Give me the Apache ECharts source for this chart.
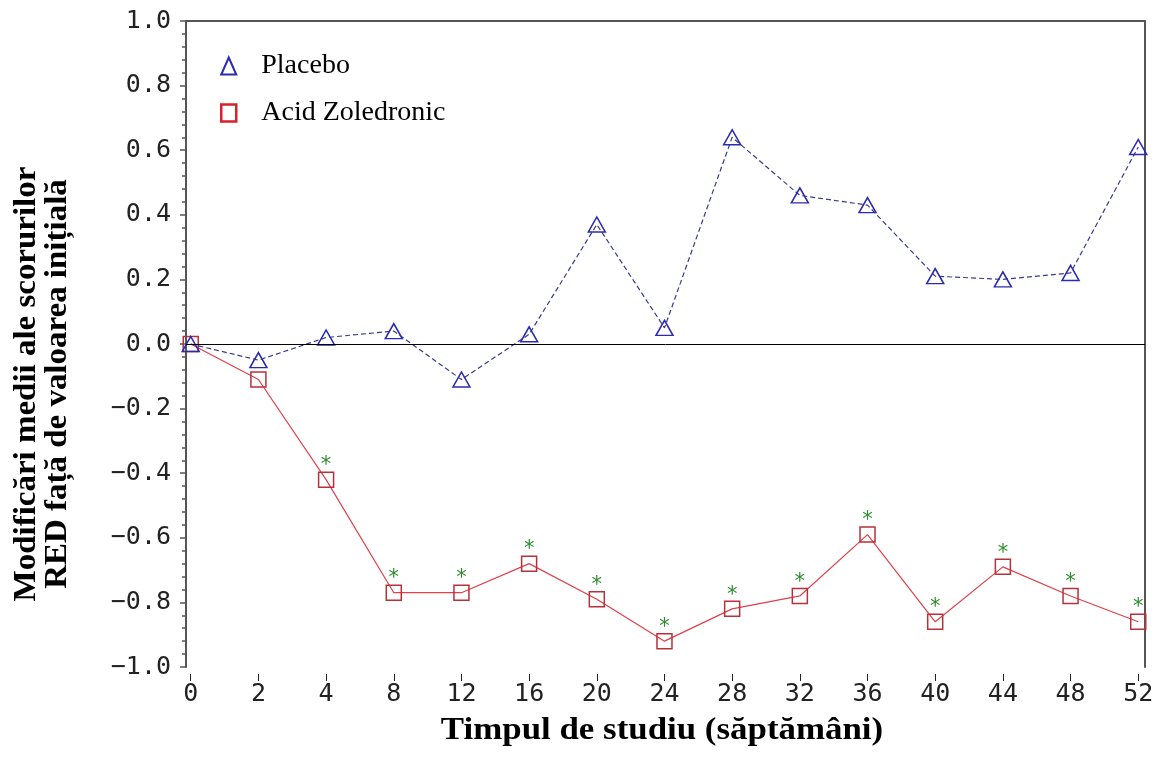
<!DOCTYPE html>
<html>
<head>
<meta charset="utf-8">
<script src="https://cdn.jsdelivr.net/npm/echarts@6/dist/echarts.min.js"></script>
<style>
html,body{margin:0;padding:0;background:#fff;}
#chart{width:1158px;height:758px;}
</style>
</head>
<body>
<div id="chart"></div>
<script>
// ---- data ----
var weeks = ['0','2','4','8','12','16','20','24','28','32','36','40','44','48','52'];
var placebo = [0.00, -0.05, 0.02, 0.04, -0.11, 0.03, 0.37, 0.05, 0.64, 0.46, 0.43, 0.21, 0.20, 0.22, 0.61];
var zoledronic = [0.00, -0.11, -0.42, -0.77, -0.77, -0.68, -0.79, -0.92, -0.82, -0.78, -0.59, -0.86, -0.69, -0.78, -0.86];
var significant = [0, 0, 1, 1, 1, 1, 1, 1, 1, 1, 1, 1, 1, 1, 1];
var seriesNames = ['Placebo', 'Acid Zoledronic'];
var yTitle = 'Modificări medii ale scorurilor\nRED față de valoarea inițială';
var xTitle = 'Timpul de studiu (săptămâni)';

var idx = weeks.map(function (w, i) { return i; });
var placeboData = placebo.map(function (v, i) { return [i, v]; });
var zolData = zoledronic.map(function (v, i) {
  return { value: [i, v], label: { show: significant[i] === 1 } };
});

var axisGrey = '#555';
var tickFont = '"DejaVu Sans Mono", monospace';

var chart = echarts.init(document.getElementById('chart'), null, { renderer: 'canvas' });
chart.setOption({
  animation: false,
  backgroundColor: '#fff',
  grid: { left: 186, right: 13, top: 21, bottom: 91, containLabel: false },
  legend: {
    orient: 'vertical',
    left: 215,
    top: 47,
    itemGap: 19,
    itemWidth: 15,
    itemHeight: 17,
    textStyle: { fontFamily: '"Liberation Serif", serif', fontSize: 28, color: '#000', padding: [0, 0, 0, 20] },
    data: [
      { name: seriesNames[0], icon: 'triangle', itemStyle: { color: 'rgba(0,0,0,0)', borderColor: '#2b2bb0', borderWidth: 2 } },
      { name: seriesNames[1], icon: 'rect', itemStyle: { color: 'rgba(0,0,0,0)', borderColor: '#d8202a', borderWidth: 2.5 } }
    ]
  },
  xAxis: [{
    type: 'value',
    min: -0.07,
    max: 14.1,
    offset: 7,
    axisLine: { show: false, onZero: false },
    splitLine: { show: false },
    axisTick: { show: true, length: 7, customValues: idx, lineStyle: { color: '#222', width: 1 } },
    axisLabel: {
      customValues: idx, margin: 8,
      fontFamily: tickFont, fontSize: 25, color: '#222',
      formatter: function (v) { return weeks[Math.round(v)]; }
    }
  }, {
    type: 'value', position: 'top', min: -0.07, max: 14.1,
    axisLine: { show: true, onZero: false, lineStyle: { color: axisGrey, width: 2 } },
    axisTick: { show: false }, axisLabel: { show: false }, splitLine: { show: false }
  }],
  yAxis: [{
    type: 'value',
    min: -1.0,
    max: 1.0,
    interval: 0.2,
    axisLine: { show: true, onZero: false, lineStyle: { color: axisGrey, width: 2 } },
    axisTick: { show: true, length: 6, lineStyle: { color: axisGrey, width: 1.5 } },
    minorTick: { show: true, splitNumber: 5, length: 4, lineStyle: { color: axisGrey, width: 1.5 } },
    splitLine: { show: false },
    axisLabel: {
      margin: 15,
      fontFamily: tickFont, fontSize: 25, color: '#222',
      formatter: function (v) { return v.toFixed(1).replace('-', '\u2212'); }
    }
  }, {
    type: 'value', position: 'right', min: -1.0, max: 1.0,
    axisLine: { show: true, onZero: false, lineStyle: { color: axisGrey, width: 2 } },
    axisTick: { show: false }, axisLabel: { show: false }, splitLine: { show: false }
  }],
  series: [{
    name: seriesNames[1],
    type: 'line',
    data: zolData,
    z: 3,
    symbol: 'rect',
    symbolSize: 15,
    showAllSymbol: true,
    lineStyle: { color: '#e0404a', width: 1.2 },
    itemStyle: { color: 'rgba(0,0,0,0)', borderColor: '#b8303a', borderWidth: 1.5 },
    label: {
      show: false, position: 'top', distance: -5, formatter: '*',
      fontFamily: '"DejaVu Sans", sans-serif', fontSize: 21, color: '#2e8b2e'
    },
    markLine: {
      silent: true, symbol: 'none', label: { show: false },
      lineStyle: { color: '#000', width: 1, type: 'solid' },
      data: [{ yAxis: 0 }]
    }
  }, {
    name: seriesNames[0],
    type: 'line',
    data: placeboData,
    z: 4,
    symbol: 'triangle',
    symbolSize: [17, 15],
    showAllSymbol: true,
    lineStyle: { color: '#3a3a90', width: 1.2, type: [5, 3] },
    itemStyle: { color: 'rgba(0,0,0,0)', borderColor: '#2b2bb0', borderWidth: 1.5 }
  }],
  graphic: [{
    type: 'text',
    x: 42, y: 384,
    rotation: Math.PI / 2,
    scaleX: 1.03,
    style: {
      text: yTitle,
      font: 'bold 32px "Liberation Serif", serif',
      fill: '#000',
      textAlign: 'center',
      textVerticalAlign: 'middle',
      lineHeight: 31
    }
  }, {
    type: 'text',
    x: 662, y: 731,
    scaleX: 1.09,
    style: {
      text: xTitle,
      font: 'bold 32px "Liberation Serif", serif',
      fill: '#000',
      textAlign: 'center',
      textVerticalAlign: 'middle'
    }
  }]
});
</script>
</body>
</html>
